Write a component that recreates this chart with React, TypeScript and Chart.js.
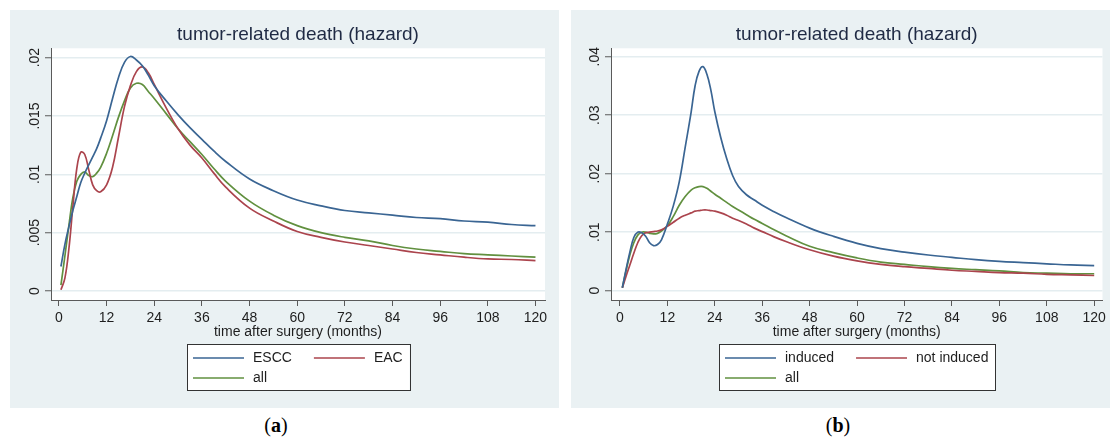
import React, { useEffect, useRef } from "react";
import { Chart, registerables } from "chart.js";

Chart.register(...registerables);

const FONT = "'Liberation Sans', Arial, Helvetica, sans-serif";
const TEXT = "#1e1e1e";
const TITLE_COLOR = "#1f2a44";
const PANEL_BG = "#eaf1f3";
const GRID = "#e4edf0";
const AXIS = "#5a5a5a";
const BLUE = "#3a6593";
const RED = "#ab444d";
const GREEN = "#61903f";

const titleText = "tumor-related death (hazard)";
const xTitleText = "time after surgery (months)";

const xTicks = [0, 12, 24, 36, 48, 60, 72, 84, 96, 108, 120];
const xTickLabels = ["0", "12", "24", "36", "48", "60", "72", "84", "96", "108", "120"];

const yTicksA = [0, 0.005, 0.01, 0.015, 0.02];
const yTickLabelsA = ["0", ".005", ".01", ".015", ".02"];
const yTicksB = [0, 0.01, 0.02, 0.03, 0.04];
const yTickLabelsB = ["0", ".01", ".02", ".03", ".04"];

// Panel (a): months and hazards
const monthsA = [0.5, 1.5, 2.5, 3.5, 4.5, 5.5, 6.5, 7.5, 8.5, 9.5, 10.5, 12, 13.5, 15, 16.5, 18, 19.5, 21, 22.5, 24, 27, 30, 33, 36, 39, 42, 48, 54, 60, 66, 72, 78, 84, 90, 96, 102, 108, 114, 120];
const esccA = [0.0021, 0.004, 0.0055, 0.0069, 0.0081, 0.0093, 0.0101, 0.0108, 0.0115, 0.0122, 0.0131, 0.0146, 0.0165, 0.0183, 0.0196, 0.0201, 0.0198, 0.0193, 0.0185, 0.0176, 0.0163, 0.0151, 0.014, 0.013, 0.012, 0.0111, 0.0096, 0.0086, 0.0078, 0.0073, 0.0069, 0.0067, 0.0065, 0.0063, 0.0062, 0.006, 0.0059, 0.0057, 0.0056];
const eacA = [0.0001, 0.0011, 0.0036, 0.0072, 0.0105, 0.0119, 0.0117, 0.0104, 0.0091, 0.0086, 0.0085, 0.0091, 0.0106, 0.0132, 0.0158, 0.0176, 0.0188, 0.0192, 0.0187, 0.0177, 0.0157, 0.0139, 0.0125, 0.0114, 0.0101, 0.0089, 0.0071, 0.006, 0.0051, 0.0046, 0.0042, 0.0039, 0.0036, 0.0033, 0.0031, 0.0029, 0.00275, 0.0027, 0.0026];
const allA = [0.0005, 0.003, 0.0056, 0.008, 0.0094, 0.01, 0.0102, 0.0099, 0.0098, 0.0101, 0.0106, 0.0118, 0.0133, 0.0149, 0.0163, 0.0174, 0.0178, 0.0177, 0.0171, 0.0165, 0.0152, 0.0139, 0.0128, 0.0117, 0.0105, 0.0094, 0.0077, 0.0065, 0.0056, 0.005, 0.0046, 0.0043, 0.0039, 0.0036, 0.0034, 0.0032, 0.0031, 0.003, 0.0029];

// Panel (b): months and hazards
const monthsB = [0.6, 1.5, 2.5, 3.5, 4.5, 5.5, 6.5, 7.5, 8.5, 9.5, 10.5, 12, 13.5, 15, 16.5, 18, 19, 20, 21, 22, 23, 24, 25.5, 27, 28.5, 30, 32, 34, 36, 39, 42, 48, 54, 60, 66, 72, 78, 84, 90, 96, 102, 108, 114, 120];
const inducedB = [0.0005, 0.0035, 0.0066, 0.0091, 0.01, 0.0099, 0.0093, 0.0082, 0.0077, 0.0079, 0.0087, 0.0114, 0.0145, 0.0186, 0.0245, 0.0305, 0.035, 0.0375, 0.0383, 0.037, 0.0343, 0.0306, 0.0262, 0.0226, 0.0197, 0.0178, 0.0164, 0.0155, 0.0146, 0.0135, 0.0125, 0.0107, 0.0093, 0.0081, 0.0072, 0.0066, 0.0061, 0.0057, 0.0053, 0.005, 0.0048, 0.0046, 0.0044, 0.0043];
const notInducedB = [0.0005, 0.0024, 0.0044, 0.0064, 0.0082, 0.0094, 0.0099, 0.01, 0.0101, 0.0102, 0.0104, 0.011, 0.0117, 0.0124, 0.0129, 0.0133, 0.0136, 0.0137, 0.0138, 0.0138, 0.0137, 0.0136, 0.0133, 0.0129, 0.0124, 0.012, 0.0114, 0.0107, 0.0101, 0.0092, 0.0084, 0.007, 0.0059, 0.0051, 0.0045, 0.0041, 0.0038, 0.0035, 0.0033, 0.0031, 0.003, 0.0028, 0.0027, 0.0026];
const allB = [0.0005, 0.0033, 0.0061, 0.0082, 0.0095, 0.01, 0.01, 0.0098, 0.0097, 0.0098, 0.0102, 0.0111, 0.0127, 0.0146, 0.0161, 0.0172, 0.0176, 0.0178, 0.0178, 0.0175, 0.017, 0.0165, 0.0158, 0.0151, 0.0144, 0.0138, 0.013, 0.0122, 0.0115, 0.0104, 0.0094, 0.0076, 0.0065, 0.0056, 0.0049, 0.0045, 0.0041, 0.0038, 0.0036, 0.0034, 0.0031, 0.003, 0.0029, 0.0029];

const seriesLabelsA = ["ESCC", "EAC", "all"];
const seriesLabelsB = ["induced", "not induced", "all"];

type Series = { label: string; data: number[]; color: string };

type PanelProps = {
  left: number;
  width: number;
  months: number[];
  series: Series[];
  yTicks: number[];
  yLabels: string[];
  yMin: number;
  yMax: number;
  xMin: number;
  xMax: number;
  yAxisWidth: number;
  padRight: number;
};

const PANEL_TOP = 10;
const PANEL_HEIGHT = 398;

function Panel(props: PanelProps) {
  const ref = useRef<HTMLCanvasElement | null>(null);

  useEffect(() => {
    const canvas = ref.current;
    if (!canvas) return;
    const { months, series, yTicks, yLabels } = props;

    const stataPlugin = {
      id: "stataPanel",
      beforeDraw(chart: any) {
        const { ctx, chartArea: a } = chart;
        ctx.save();
        ctx.fillStyle = "#ffffff";
        ctx.fillRect(a.left, a.top, a.right - a.left, a.bottom - a.top);
        ctx.restore();
      },
      afterDraw(chart: any) {
        const { ctx, chartArea: a } = chart;
        const ys = chart.scales.y;
        ctx.save();
        ctx.fillStyle = TEXT;
        ctx.font = `14px ${FONT}`;
        ctx.textAlign = "center";
        ctx.textBaseline = "middle";
        ys.ticks.forEach((t: any, i: number) => {
          const py = ys.getPixelForValue(t.value);
          ctx.save();
          ctx.translate(a.left - 16, py);
          ctx.rotate(-Math.PI / 2);
          ctx.fillText(yLabels[i], 0, 0);
          ctx.restore();
        });
        // x-axis title
        ctx.fillText(xTitleText, (a.left + a.right) / 2, a.bottom + 32);

        // legend box
        const lineLen = 51;
        const gap = 9;
        const colGap = 22;
        const padL = 6;
        const padR = 7;
        const w = series.map((s) => ctx.measureText(s.label).width);
        const col1 = lineLen + gap + Math.max(w[0], w[2] || 0);
        const col2 = lineLen + gap + w[1];
        const total = padL + col1 + colGap + col2 + padR;
        const bx = Math.round((a.left + a.right) / 2 - total / 2);
        const by = Math.round(a.bottom + 44);
        const bh = 46;
        ctx.fillStyle = "#ffffff";
        ctx.fillRect(bx, by, total, bh);
        ctx.strokeStyle = "#333333";
        ctx.lineWidth = 1;
        ctx.strokeRect(bx + 0.5, by + 0.5, Math.round(total), bh);
        const items = [
          { s: series[0], x: bx + padL, y: by + 14 },
          { s: series[1], x: bx + padL + col1 + colGap, y: by + 14 },
          { s: series[2], x: bx + padL, y: by + 34 },
        ];
        ctx.textAlign = "left";
        items.forEach((it) => {
          if (!it.s) return;
          ctx.strokeStyle = it.s.color;
          ctx.lineWidth = 1.6;
          ctx.beginPath();
          ctx.moveTo(it.x, it.y);
          ctx.lineTo(it.x + lineLen, it.y);
          ctx.stroke();
          ctx.fillStyle = TEXT;
          ctx.fillText(it.s.label, it.x + lineLen + gap, it.y);
        });
        ctx.restore();
      },
    };

    const chart = new Chart(canvas, {
      type: "line",
      data: {
        datasets: series.map((s) => ({
          label: s.label,
          data: months.map((m, i) => ({ x: m, y: s.data[i] })),
          borderColor: s.color,
          backgroundColor: s.color,
          borderWidth: 1.7,
          pointRadius: 0,
          fill: false,
          tension: 0.4,
        })),
      },
      options: {
        animation: false,
        responsive: true,
        maintainAspectRatio: false,
        events: [],
        layout: { padding: { left: 0, right: props.padRight, top: 0, bottom: 68 } },
        plugins: {
          legend: { display: false },
          tooltip: { enabled: false },
          title: {
            display: true,
            fullSize: false,
            text: titleText,
            color: TITLE_COLOR,
            font: { family: FONT, size: 19, weight: "normal" as any, lineHeight: 1.2 },
            padding: { top: 13.5, bottom: 2 },
          },
        },
        scales: {
          x: {
            type: "linear",
            min: props.xMin,
            max: props.xMax,
            afterBuildTicks: (s: any) => {
              s.ticks = xTicks.map((v) => ({ value: v }));
            },
            afterFit: (s: any) => {
              s.height = 40;
            },
            ticks: {
              autoSkip: false,
              maxRotation: 0,
              minRotation: 0,
              padding: 4,
              color: TEXT,
              font: { family: FONT, size: 14 },
              callback: (_v: any, i: number) => xTickLabels[i],
            },
            grid: {
              display: true,
              drawOnChartArea: false,
              drawTicks: true,
              tickLength: 6,
              tickColor: AXIS,
              tickWidth: 1,
            },
            border: { display: true, color: AXIS, width: 1 },
          },
          y: {
            type: "linear",
            min: props.yMin,
            max: props.yMax,
            afterBuildTicks: (s: any) => {
              s.ticks = yTicks.map((v) => ({ value: v }));
            },
            afterFit: (s: any) => {
              s.width = props.yAxisWidth;
            },
            ticks: { display: false },
            grid: {
              display: true,
              drawOnChartArea: true,
              drawTicks: true,
              tickLength: 6,
              color: GRID,
              lineWidth: 1.5,
              tickColor: AXIS,
              tickWidth: 1,
            },
            border: { display: true, color: AXIS, width: 1 },
          },
        },
      },
      plugins: [stataPlugin],
    } as any);

    return () => chart.destroy();
  }, []);

  return (
    <div
      style={{
        position: "absolute",
        left: props.left,
        top: PANEL_TOP,
        width: props.width,
        height: PANEL_HEIGHT,
        background: PANEL_BG,
      }}
    >
      <canvas ref={ref} />
    </div>
  );
}

function Caption({ x, letter }: { x: number; letter: string }) {
  return (
    <div
      style={{
        position: "absolute",
        left: x - 30,
        width: 60,
        top: 413,
        textAlign: "center",
        fontFamily: "'Liberation Serif', 'Times New Roman', serif",
        fontSize: 20,
        color: "#000",
        lineHeight: "24px",
      }}
    >
      (<b>{letter}</b>)
    </div>
  );
}

export default function App() {
  const seriesA: Series[] = [
    { label: seriesLabelsA[0], data: esccA, color: BLUE },
    { label: seriesLabelsA[1], data: eacA, color: RED },
    { label: seriesLabelsA[2], data: allA, color: GREEN },
  ];
  const seriesB: Series[] = [
    { label: seriesLabelsB[0], data: inducedB, color: BLUE },
    { label: seriesLabelsB[1], data: notInducedB, color: RED },
    { label: seriesLabelsB[2], data: allB, color: GREEN },
  ];
  return (
    <div style={{ position: "absolute", left: 0, top: 0, width: 1110, height: 437, background: "#fff", overflow: "hidden" }}>
      <Panel
        left={10}
        width={549}
        months={monthsA}
        series={seriesA}
        yTicks={yTicksA}
        yLabels={yTickLabelsA}
        yMin={-0.00077}
        yMax={0.0208}
        xMin={-2.0}
        xMax={122.4}
        yAxisWidth={41}
        padRight={14}
      />
      <Panel
        left={571}
        width={539}
        months={monthsB}
        series={seriesB}
        yTicks={yTicksB}
        yLabels={yTickLabelsB}
        yMin={-0.00159}
        yMax={0.04144}
        xMin={-2.27}
        xMax={122.1}
        yAxisWidth={40}
        padRight={5}
      />
      <Caption x={276} letter="a" />
      <Caption x={838} letter="b" />
    </div>
  );
}
